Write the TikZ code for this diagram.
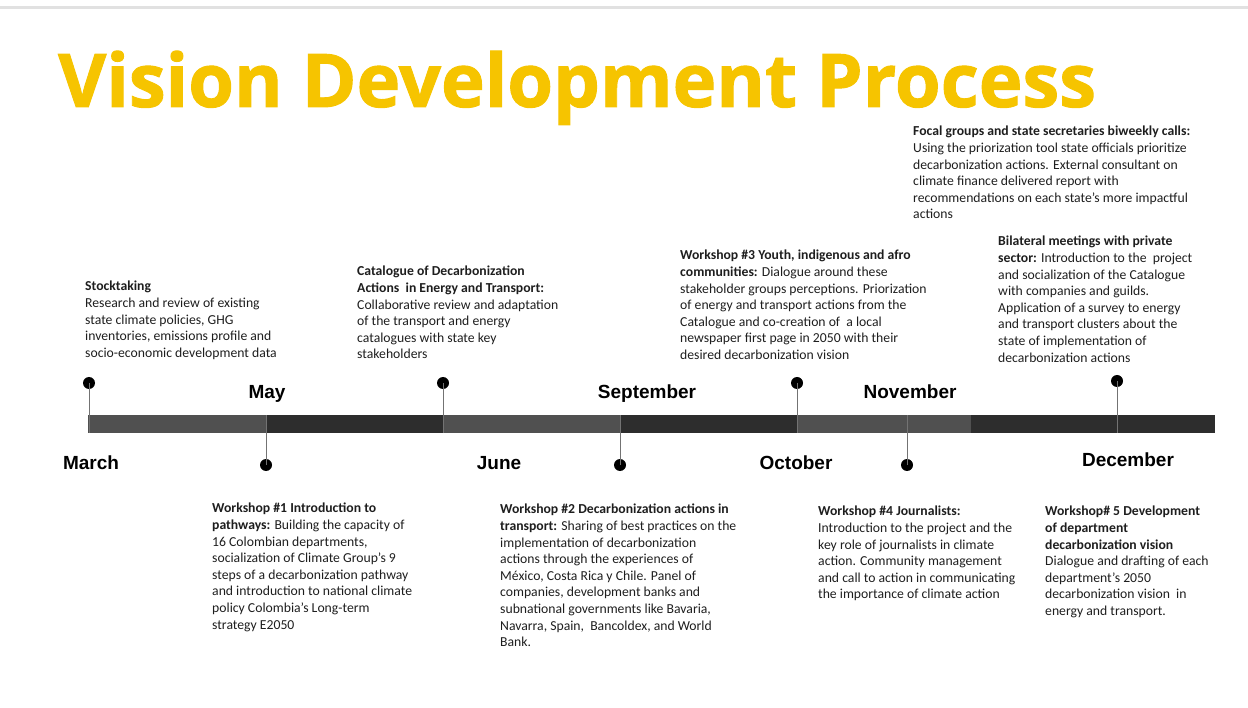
\documentclass[tikz,border=0pt]{standalone}
\usepackage{fontspec}
\setmainfont{Carlito}
\newfontfamily\titlefont{Open Sans}[BoldFeatures={FakeBold=1.3}]
\newfontfamily\monthfont{Liberation Sans}
\definecolor{titleyellow}{RGB}{246,196,0}
\definecolor{barlight}{RGB}{80,80,80}
\definecolor{bardark}{RGB}{45,45,45}
\definecolor{bodytext}{RGB}{30,30,30}
\definecolor{topline}{RGB}{225,225,225}
\tikzset{
  txt/.style={font=\fontsize{13.7}{16.6}\selectfont, align=left, inner sep=0pt, anchor=north west, text=bodytext},
  month/.style={font=\monthfont\bfseries\fontsize{19}{22}\selectfont, inner sep=0pt, anchor=base},
  pin/.style={circle, fill=black, inner sep=0pt, minimum size=12pt},
  stem/.style={draw=gray!90!black, line width=0.9pt},
}
\begin{document}
\begin{tikzpicture}[x=1pt,y=-1pt]
\useasboundingbox (0,0) rectangle (1248,708);
% top rule
\draw[topline, line width=3pt] (0,8) -- (1248,8);
% title
\node[anchor=base west, inner sep=0pt, text=titleyellow, font=\titlefont\bfseries\fontsize{74}{80}\selectfont] (title) at (58,107) {Vision Development Process};
% bar segments
\fill[barlight] (88,415) rectangle (266,433);
\fill[bardark] (266,415) rectangle (443,433);
\fill[barlight] (443,415) rectangle (620,433);
\fill[bardark] (620,415) rectangle (797,433);
\fill[barlight] (797,415) rectangle (971,433);
\fill[bardark] (971,415) rectangle (1215,433);
% bar anchor coordinates
\coordinate (b1) at (89,433);
\coordinate (b2) at (266,415);
\coordinate (b3) at (443,433);
\coordinate (b4) at (620,415);
\coordinate (b5) at (797,433);
\coordinate (b6) at (907,415);
\coordinate (b7) at (1117,433);
% pins
\node[pin] (p1) at (89,383) {};
\node[pin] (p2) at (266,465) {};
\node[pin] (p3) at (443,383) {};
\node[pin] (p4) at (620,465) {};
\node[pin] (p5) at (797,383) {};
\node[pin] (p6) at (907,465) {};
\node[pin] (p7) at (1117,381) {};
\foreach \i in {1,...,7} \draw[stem] (p\i.center) -- (b\i);
% months
\node[month] (march) at (91,469) {March};
\node[month] (may) at (267,399) {May};
\node[month] (june) at (499,469) {June};
\node[month] (sept) at (647,399) {September};
\node[month] (oct) at (796,469) {October};
\node[month] (nov) at (910,399) {November};
\node[month] (dec) at (1128,466) {December};
% texts above
\node[txt] (t1) at (85,281) {{\bfseries Stocktaking}\\
Research and review of existing\\
state climate policies, GHG\\
inventories, emissions profile and\\
socio-economic development data};
\node[txt] (t3) at (357,266) {{\bfseries Catalogue of Decarbonization}\\
{\bfseries Actions\ \ in Energy and Transport:}\\
Collaborative review and adaptation\\
of the transport and energy\\
catalogues with state key\\
stakeholders};
\node[txt] (t5) at (680,250) {{\bfseries Workshop \#3 Youth, indigenous and afro}\\
{\bfseries communities:} Dialogue around these\\
stakeholder groups perceptions. Priorization\\
of energy and transport actions from the\\
Catalogue and co-creation of\ \ a local\\
newspaper first page in 2050 with their\\
desired decarbonization vision};
\node[txt] (t8) at (913,126) {{\bfseries Focal groups and state secretaries biweekly calls:}\\
Using the priorization tool state officials prioritize\\
decarbonization actions. External consultant on\\
climate finance delivered report with\\
recommendations on each state’s more impactful\\
actions};
\node[txt] (t7) at (998,236) {{\bfseries Bilateral meetings with private}\\
{\bfseries sector:} Introduction to the\ \ project\\
and socialization of the Catalogue\\
with companies and guilds.\\
Application of a survey to energy\\
and transport clusters about the\\
state of implementation of\\
decarbonization actions};
% texts below
\node[txt] (t2) at (212,503) {{\bfseries Workshop \#1 Introduction to}\\
{\bfseries pathways:} Building the capacity of\\
16 Colombian departments,\\
socialization of Climate Group’s 9\\
steps of a decarbonization pathway\\
and introduction to national climate\\
policy Colombia's Long-term\\
strategy E2050};
\node[txt] (t4) at (500,504) {{\bfseries Workshop \#2 Decarbonization actions in}\\
{\bfseries transport:} Sharing of best practices on the\\
implementation of decarbonization\\
actions through the experiences of\\
México, Costa Rica y Chile. Panel of\\
companies, development banks and\\
subnational governments like Bavaria,\\
Navarra, Spain,\ \ Bancoldex, and World\\
Bank.};
\node[txt] (t6) at (818,506) {{\bfseries Workshop \#4 Journalists:}\\
Introduction to the project and the\\
key role of journalists in climate\\
action. Community management\\
and call to action in communicating\\
the importance of climate action};
\node[txt] (t9) at (1045,506) {{\bfseries Workshop\# 5 Development}\\
{\bfseries of department}\\
{\bfseries decarbonization vision}\\
Dialogue and drafting of each\\
department’s 2050\\
decarbonization vision\ \ in\\
energy and transport.};
\end{tikzpicture}
\end{document}
